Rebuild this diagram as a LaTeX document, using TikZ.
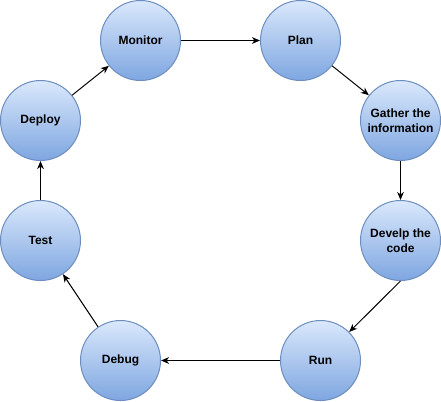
\documentclass[tikz,border=0pt]{standalone}
\usepackage{fontspec}
\setmainfont{Liberation Sans}
\usetikzlibrary{arrows.meta}
\definecolor{fillTop}{HTML}{DAE8FC}
\definecolor{fillBot}{HTML}{7EA6E0}
\definecolor{strokeC}{HTML}{6C8EBF}
\tikzset{
  stepnode/.style={circle, minimum size=60pt, inner sep=0pt, draw=strokeC, line width=0.75pt,
    top color=fillTop, bottom color=fillBot, align=center,
    font=\fontsize{9}{11}\selectfont\bfseries},
  arr/.style={-{Stealth[length=6pt,width=5pt,inset=1.8pt]}, line width=0.75pt, black}
}
\begin{document}
\begin{tikzpicture}[x=0.75pt,y=-0.75pt]
\useasboundingbox (0,0) rectangle (441,401);
\node[stepnode] (mon) at (140.5,40.5) {Monitor};
\node[stepnode] (plan) at (300.5,40.5) {Plan};
\node[stepnode] (gath) at (400.5,120.5) {Gather the\\information};
\node[stepnode] (dev) at (400.5,240.5) {Develp the\\code};
\node[stepnode] (run) at (320.5,360.5) {Run};
\node[stepnode] (deb) at (120.5,360.5) {Debug};
\node[stepnode] (test) at (40.5,240.5) {Test};
\node[stepnode] (dep) at (40.5,120.5) {Deploy};
\draw[arr] (mon) -- (plan);
\draw[arr] (plan) -- (gath);
\draw[arr] (gath) -- (dev);
\draw[arr] (dev.south) -- (run);
\draw[arr] (run) -- (deb);
\draw[arr] (deb) -- (test);
\draw[arr] (test) -- (dep);
\draw[arr] (dep) -- (mon);
\end{tikzpicture}
\end{document}
